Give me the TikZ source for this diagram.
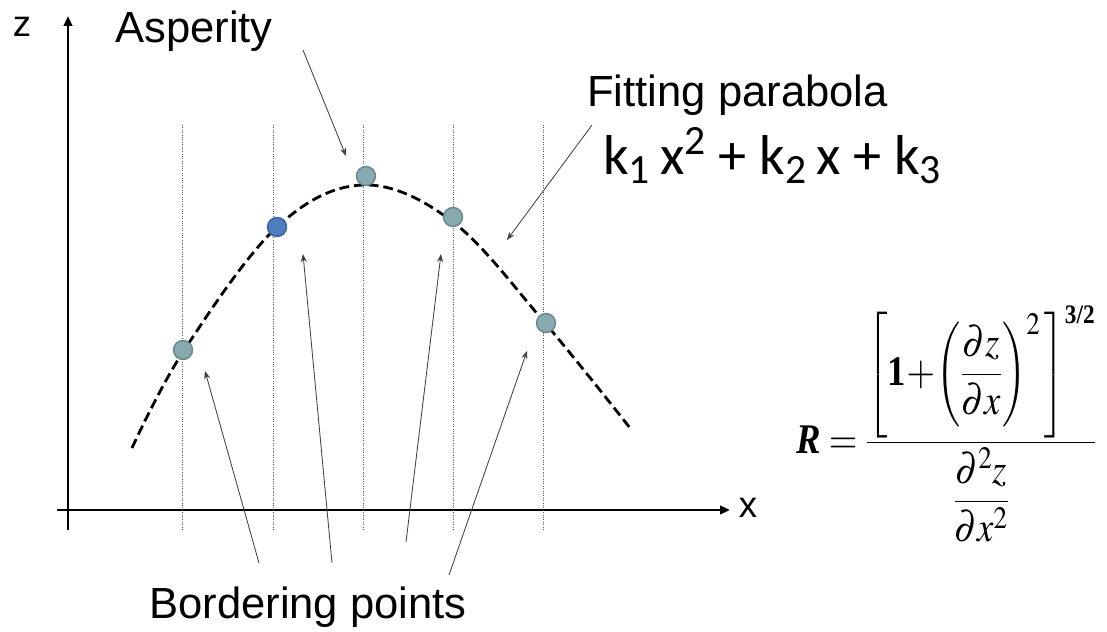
\documentclass[tikz,border=0pt]{standalone}
\usepackage{amsmath}
\usepackage{mathptmx}
\DeclareSymbolFont{largesymbols}{OMX}{cmex}{m}{n}
\usepackage[no-math]{fontspec}
\setmainfont{Liberation Sans}
\newfontfamily\calibrifont{Carlito}
\newfontfamily\timesfont{Liberation Serif}
\usetikzlibrary{arrows.meta, positioning}
\definecolor{dotfill}{HTML}{88A9AE}
\definecolor{dotline}{HTML}{62878E}
\definecolor{bluefill}{HTML}{4F7EC0}
\definecolor{blueline}{HTML}{33619F}

\begin{document}
\begin{tikzpicture}[
    x=0.25mm, y=-0.25mm, >=Stealth,
    axis/.style={line width=2pt, -{Triangle[length=7pt, width=6pt]}},
    gridline/.style={densely dotted, line width=0.7pt, black!65},
    curve/.style={line width=2pt, dash pattern=on 7pt off 3.5pt},
    ptr/.style={->, line width=0.6pt, black!75},
    lab/.style={font=\fontsize{31}{36}\selectfont, inner sep=0pt},
    axlab/.style={font=\fontsize{26}{30}\selectfont, inner sep=0pt},
    pt/.style={circle, draw=dotline, fill=dotfill, line width=1pt,
               minimum size=13.5pt, inner sep=0pt},
    ptb/.style={pt, draw=blueline, fill=bluefill},
]
\useasboundingbox (0,0) rectangle (1107,632);

% axes
\coordinate (o) at (68,510);
\draw[axis] (68,530) -- (68,16);
\draw[axis] (57,510) -- (730,510);
\node[axlab, anchor=base] (zl) at (22,37) {z};
\node[axlab, anchor=base] (xl) at (748,517) {x};

\foreach \gx in {182,273,363,453,543}
  \draw[gridline] (\gx,125) -- (\gx,530);

\draw[curve] plot[smooth, tension=0.6] coordinates
  {(132,448) (183,352) (276,228) (363,185) (453,222) (545,323) (630,428)};

\node[pt]  (p1) at (183,350) {};
\node[ptb] (p2) at (277,227) {};
\node[pt]  (p3) at (366,176) {};
\node[pt]  (p4) at (453,217) {};
\node[pt]  (p5) at (546,323) {};

\node[lab, anchor=base west] (asp)  at (115,43)  {Asperity};
\node[lab, anchor=base west] (fit)  at (587,107) {Fitting parabola};
\node[lab, anchor=base west] (bord) at (149,618) {Bordering points};
\node[anchor=base west, inner sep=0pt, font=\calibrifont\fontsize{40}{46}\selectfont]
  (kf) at (603,175)
  {k\textsubscript{1}\,x\textsuperscript{2} + k\textsubscript{2}\,x + k\textsubscript{3}};

\node[inner sep=0pt, font=\fontsize{30}{36}\selectfont, anchor=east,
      xscale=0.87] (rf) at (1097,424)
  {$\text{\timesfont\bfseries\itshape R}=\dfrac{\left[\rule[-1.1em]{0pt}{2.8em}\text{\timesfont\bfseries 1}\!+\!\left(\dfrac{\partial z}{\partial x}\right)^{2}\,\right]^{\text{\timesfont\bfseries\fontsize{19}{22}\selectfont 3/2}}}{\dfrac{\partial^{2}z}{\partial x^{2}}}$};

% pointers
\coordinate (aspS) at (303,50);  \coordinate (aspE) at (346,156);
\coordinate (fitS) at (592,125); \coordinate (fitE) at (507,240);
\coordinate (b1s) at (259,563);  \coordinate (b1e) at (205,371);
\coordinate (b2s) at (332,563);  \coordinate (b2e) at (303,254);
\coordinate (b3s) at (406,542);  \coordinate (b3e) at (441,254);
\coordinate (b4s) at (449,575);  \coordinate (b4e) at (527,351);

\draw[ptr] (aspS) -- (aspE);
\draw[ptr] (fitS) -- (fitE);
\foreach \i in {1,...,4}
  \draw[ptr] (b\i s) -- (b\i e);

\end{tikzpicture}
\end{document}
